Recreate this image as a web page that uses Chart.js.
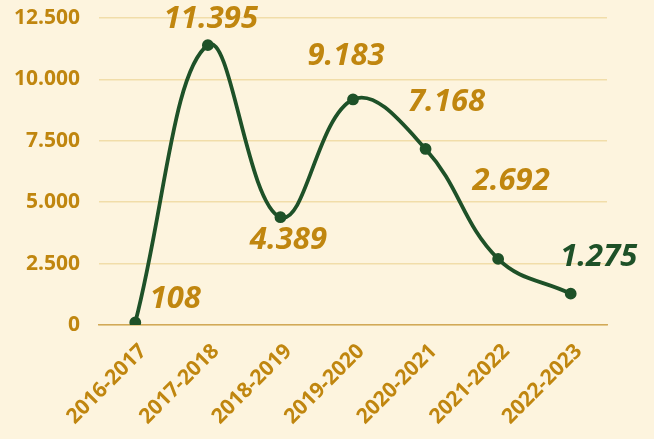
<!DOCTYPE html>
<html>
<head>
<meta charset="utf-8">
<script src="https://cdn.jsdelivr.net/npm/chart.js@4"></script>
<style>
  html, body { margin: 0; padding: 0; background: #FDF4DE; }
  #wrap { width: 654px; height: 439px; }
</style>
</head>
<body>
<div id="wrap"><canvas id="myChart"></canvas></div>
<script>
const years = ['2016-2017', '2017-2018', '2018-2019', '2019-2020', '2020-2021', '2021-2022', '2022-2023'];
const values = [108, 11395, 4389, 9183, 7168, 2692, 1275];
const yTicks = [0, 2500, 5000, 7500, 10000, 12500];

const gold = '#C0860F';
const green = '#1E5128';

const fmt = v => v.toLocaleString('de-DE');

// where each value label sits relative to its point (dx, dy)
const labelOffsets = [[40, -23], [3, -26], [8, 23], [-7, -43], [21, -47], [13, -78], [28, -37]];
const labelColors = [gold, gold, gold, gold, gold, gold, green];

const valueLabels = {
    id: 'valueLabels',
    afterDatasetsDraw(chart) {
        const c = chart.ctx;
        const meta = chart.getDatasetMeta(0);
        c.save();
        c.font = 'italic bold 31px "Open Sans"';
        c.textAlign = 'center';
        c.textBaseline = 'middle';
        meta.data.forEach((pt, i) => {
            c.fillStyle = labelColors[i];
            c.fillText(fmt(values[i]), pt.x + labelOffsets[i][0], pt.y + labelOffsets[i][1]);
        });
        c.restore();
    }
};

const ctx = document.getElementById('myChart');

new Chart(ctx, {
    type: 'line',
    data: {
        labels: years,
        datasets: [{
            data: values,
            borderColor: green,
            backgroundColor: green,
            borderWidth: 3.8,
            pointRadius: 4,
            pointBackgroundColor: green,
            tension: 0.4
        }]
    },
    plugins: [valueLabels],
    options: {
        responsive: true,
        maintainAspectRatio: false,
        animation: false,
        layout: { padding: { top: 0, right: 47, left: 0, bottom: 0 } },
        plugins: {
            legend: { display: false },
            tooltip: { enabled: false }
        },
        scales: {
            x: {
                offset: true,
                afterFit: axis => { axis.height = 114; },
                grid: { display: false },
                border: { color: '#D2A958', width: 1.5 },
                ticks: {
                    color: gold,
                    font: { family: 'Open Sans', weight: 'bold', size: 21 },
                    maxRotation: 45,
                    minRotation: 45,
                    padding: 6,
                    labelOffset: 8
                }
            },
            y: {
                min: 0,
                max: 12500,
                afterBuildTicks: axis => { axis.ticks = yTicks.map(v => ({ value: v })); },
                afterFit: axis => { axis.width = 99; axis.paddingTop = 18; },
                grid: { color: '#F1DDA9', lineWidth: 1.5, drawTicks: false },
                border: { display: false },
                ticks: {
                    color: gold,
                    font: { family: 'Open Sans', weight: 'bold', size: 21 },
                    padding: 19,
                    callback: v => fmt(v)
                }
            }
        }
    }
});
</script>
</body>
</html>
